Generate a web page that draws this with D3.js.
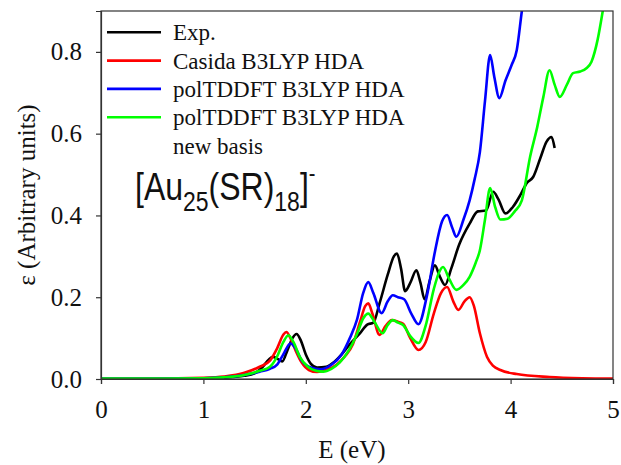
<!DOCTYPE html>
<html><head><meta charset="utf-8">
<script src="https://cdn.jsdelivr.net/npm/d3@7"></script>
<style>body{margin:0;background:#fff}svg{display:block}</style>
</head><body>
<svg id="chart" width="621" height="465"></svg>
<script>
// ---- data ----
const xTicks = [0, 1, 2, 3, 4, 5];
const yTicks = [0.0, 0.2, 0.4, 0.6, 0.8];
const seriesNames = ["Exp.", "Casida B3LYP HDA", "polTDDFT B3LYP HDA", "polTDDFT B3LYP HDA"];
const seriesNames2 = ["", "", "", "new basis"];
const seriesColors = ["#000000", "#ff0000", "#0000ff", "#00ff00"];

const expData = [[1.2,0.003],[1.3,0.005],[1.4,0.008],[1.5,0.014],[1.58,0.03],[1.64,0.048],[1.68,0.054],[1.72,0.05],[1.77,0.043],[1.82,0.07],[1.87,0.1],[1.91,0.11],[1.95,0.095],[2.0,0.06],[2.05,0.037],[2.11,0.028],[2.2,0.03],[2.28,0.042],[2.35,0.06],[2.43,0.085],[2.53,0.112],[2.6,0.133],[2.66,0.138],[2.72,0.185],[2.8,0.255],[2.86,0.3],[2.89,0.307],[2.93,0.27],[2.97,0.215],[3.02,0.235],[3.08,0.266],[3.12,0.235],[3.16,0.195],[3.21,0.24],[3.26,0.278],[3.31,0.25],[3.36,0.23],[3.42,0.27],[3.5,0.33],[3.6,0.38],[3.68,0.41],[3.76,0.412],[3.83,0.458],[3.88,0.44],[3.95,0.405],[4.02,0.42],[4.1,0.452],[4.16,0.48],[4.22,0.494],[4.29,0.54],[4.35,0.58],[4.4,0.592],[4.43,0.565]];

const casidaData = [[0,0.001],[0.5,0.001],[1.0,0.003],[1.2,0.006],[1.4,0.015],[1.55,0.03],[1.65,0.045],[1.72,0.075],[1.78,0.108],[1.81,0.115],[1.85,0.1],[1.9,0.07],[1.96,0.04],[2.03,0.022],[2.11,0.017],[2.2,0.022],[2.3,0.035],[2.38,0.055],[2.46,0.085],[2.53,0.14],[2.58,0.178],[2.61,0.185],[2.65,0.16],[2.72,0.108],[2.78,0.13],[2.84,0.144],[2.9,0.14],[2.95,0.135],[3.02,0.1],[3.1,0.071],[3.17,0.09],[3.25,0.16],[3.32,0.21],[3.38,0.225],[3.44,0.19],[3.49,0.169],[3.55,0.19],[3.6,0.2],[3.64,0.18],[3.7,0.112],[3.77,0.054],[3.83,0.032],[3.9,0.022],[4.06,0.012],[4.38,0.005],[4.7,0.002],[5.0,0.001]];

const polData = [[0,0.001],[0.5,0.001],[1.0,0.002],[1.2,0.004],[1.4,0.01],[1.55,0.018],[1.65,0.025],[1.72,0.035],[1.78,0.06],[1.85,0.087],[1.9,0.075],[1.96,0.045],[2.05,0.028],[2.14,0.024],[2.25,0.035],[2.35,0.06],[2.43,0.1],[2.5,0.145],[2.56,0.21],[2.61,0.237],[2.66,0.21],[2.74,0.161],[2.8,0.19],[2.85,0.205],[2.9,0.2],[2.96,0.195],[3.03,0.16],[3.1,0.134],[3.18,0.2],[3.26,0.31],[3.33,0.385],[3.38,0.401],[3.43,0.37],[3.47,0.348],[3.54,0.39],[3.6,0.437],[3.65,0.49],[3.7,0.555],[3.75,0.68],[3.8,0.792],[3.84,0.74],[3.89,0.687],[3.95,0.73],[4.01,0.768],[4.06,0.804],[4.11,0.9],[4.15,0.97]];

const polNewData = [[0,0.001],[0.5,0.001],[1.0,0.002],[1.2,0.004],[1.4,0.01],[1.55,0.02],[1.65,0.03],[1.72,0.055],[1.78,0.09],[1.83,0.107],[1.88,0.09],[1.94,0.055],[2.02,0.03],[2.1,0.02],[2.17,0.018],[2.25,0.025],[2.33,0.04],[2.42,0.07],[2.5,0.11],[2.56,0.148],[2.61,0.16],[2.67,0.14],[2.75,0.112],[2.8,0.132],[2.85,0.144],[2.9,0.138],[2.95,0.132],[3.02,0.105],[3.1,0.088],[3.17,0.13],[3.25,0.22],[3.3,0.26],[3.34,0.274],[3.4,0.245],[3.47,0.218],[3.54,0.23],[3.6,0.25],[3.66,0.285],[3.7,0.315],[3.75,0.39],[3.8,0.467],[3.85,0.42],[3.9,0.39],[3.97,0.392],[4.04,0.41],[4.11,0.437],[4.19,0.543],[4.26,0.616],[4.32,0.69],[4.38,0.755],[4.43,0.72],[4.48,0.69],[4.55,0.72],[4.61,0.748],[4.68,0.752],[4.74,0.76],[4.79,0.776],[4.85,0.83],[4.9,0.9],[4.95,0.98]];

const allSeries = [expData, casidaData, polData, polNewData];

// ---- layout ----
const svg = d3.select("#chart");
const m = {left: 101, right: 613, top: 11, bottom: 379};
const x = d3.scaleLinear().domain([0, 5]).range([m.left, m.right]);
const y = d3.scaleLinear().domain([0, 0.9]).range([m.bottom, m.top]);
const serif = "'Liberation Serif','Times New Roman',serif";
const sans = "'Liberation Sans',Arial,sans-serif";

svg.append("defs").append("clipPath").attr("id", "clip")
  .append("rect").attr("x", m.left).attr("y", m.top)
  .attr("width", m.right - m.left).attr("height", m.bottom - m.top);

const line = d3.line().x(d => x(d[0])).y(d => y(d[1])).curve(d3.curveMonotoneX);

const g = svg.append("g").attr("clip-path", "url(#clip)");
allSeries.forEach((s, i) => {
  g.append("path").datum(s).attr("d", line)
    .attr("fill", "none").attr("stroke", seriesColors[i])
    .attr("stroke-width", 2.6).attr("stroke-linejoin", "round");
});

// frame
svg.append("rect").attr("x", m.left).attr("y", m.top)
  .attr("width", m.right - m.left).attr("height", m.bottom - m.top)
  .attr("fill", "none").attr("stroke", "#333").attr("stroke-width", 1.2);

// axes
const xAxis = svg.append("g").attr("transform", `translate(0,${m.bottom})`)
  .call(d3.axisBottom(x).tickValues(xTicks).tickFormat(d3.format("d")).tickSize(5).tickPadding(16));
const yAxis = svg.append("g").attr("transform", `translate(${m.left},0)`)
  .call(d3.axisLeft(y).tickValues(yTicks).tickFormat(d3.format(".1f")).tickSize(5).tickPadding(14));
[xAxis, yAxis].forEach(a => {
  a.select(".domain").attr("stroke", "#333").attr("stroke-width", 1.2);
  a.selectAll(".tick line").attr("stroke", "#333").attr("stroke-width", 1.2);
  a.selectAll(".tick text").attr("font-family", serif).attr("font-size", 25).attr("fill", "#111");
});

// axis titles
svg.append("text").attr("x", x(2.45)).attr("y", 458).attr("text-anchor", "middle")
  .attr("font-family", serif).attr("font-size", 25).attr("fill", "#111").text("E (eV)");
svg.append("text").attr("transform", `translate(35,${(m.top + m.bottom) / 2}) rotate(-90)`)
  .attr("text-anchor", "middle").attr("font-family", serif).attr("font-size", 25).attr("fill", "#111")
  .text("ε (Arbitrary units)");

// legend
const leg = svg.append("g");
seriesNames.forEach((name, i) => {
  const ly = 32.3 + i * 28.3;
  leg.append("line").attr("x1", 107).attr("x2", 161).attr("y1", ly).attr("y2", ly)
    .attr("stroke", seriesColors[i]).attr("stroke-width", 2.6);
  leg.append("text").attr("x", 173).attr("y", ly + 8).attr("font-family", serif)
    .attr("font-size", 23).attr("fill", "#111").text(name);
  if (seriesNames2[i]) {
    leg.append("text").attr("x", 173).attr("y", ly + 8 + 28.3).attr("font-family", serif)
      .attr("font-size", 23).attr("fill", "#111").text(seriesNames2[i]);
  }
});

// annotation (slightly tall lettering, as in the reference)
const ann = svg.append("text")
  .attr("transform", "translate(135,200) scale(1,1.2)")
  .attr("font-family", sans).attr("font-size", 32).attr("fill", "#111");
ann.append("tspan").text("[Au");
ann.append("tspan").attr("font-size", 23).attr("dy", 9).text("25");
ann.append("tspan").attr("dy", -9).text("(SR)");
ann.append("tspan").attr("font-size", 23).attr("dy", 9).text("18");
ann.append("tspan").attr("dy", -9).text("]");
ann.append("tspan").attr("font-size", 20).attr("dy", -16).text("-");
</script>
</body></html>
